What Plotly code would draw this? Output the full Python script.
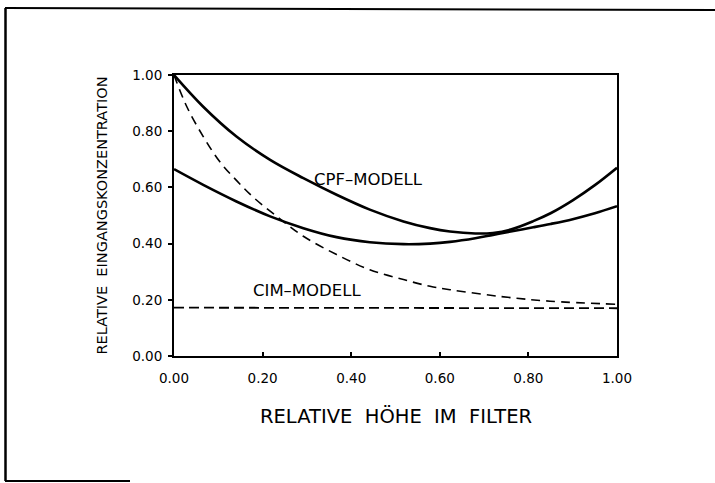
import plotly.graph_objects as go

# ---- data ----
cpf_x = [0.0, 0.066, 0.141, 0.217, 0.292, 0.367, 0.442, 0.518, 0.578, 0.623, 0.68, 0.72, 0.76, 0.811, 0.85, 0.90, 0.95, 1.0]
cpf_y = [1.0, 0.887, 0.781, 0.698, 0.633, 0.574, 0.521, 0.479, 0.455, 0.443, 0.436, 0.438, 0.450, 0.480, 0.508, 0.554, 0.608, 0.670]

low_x = [0.0, 0.066, 0.141, 0.217, 0.292, 0.367, 0.442, 0.518, 0.578, 0.623, 0.68, 0.72, 0.76, 0.811, 0.85, 0.90, 0.95, 1.0]
low_y = [0.665, 0.609, 0.550, 0.497, 0.455, 0.423, 0.405, 0.398, 0.400, 0.406, 0.419, 0.431, 0.443, 0.458, 0.470, 0.487, 0.508, 0.533]

dec_x = [0.0, 0.029, 0.066, 0.104, 0.141, 0.179, 0.232, 0.292, 0.367, 0.442, 0.518, 0.578, 0.623, 0.736, 0.849, 1.0]
dec_y = [1.0, 0.887, 0.781, 0.690, 0.625, 0.565, 0.497, 0.426, 0.361, 0.307, 0.272, 0.248, 0.236, 0.212, 0.195, 0.184]

cim_x = [0.0, 1.0]
cim_y = [0.172, 0.170]

tick_vals = [0.0, 0.2, 0.4, 0.6, 0.8, 1.0]
tick_text = ["0.00", "0.20", "0.40", "0.60", "0.80", "1.00"]

x_title = "RELATIVE\u00a0\u00a0HÖHE\u00a0\u00a0IM\u00a0\u00a0FILTER"
y_title = "RELATIVE\u00a0\u00a0EINGANGSKONZENTRATION"
cpf_label = "CPF–MODELL"
cim_label = "CIM–MODELL"

FONT = "DejaVu Sans"

fig = go.Figure()
fig.add_trace(go.Scatter(x=cpf_x, y=cpf_y, mode="lines", line=dict(color="black", width=2.6, shape="spline", smoothing=1.0), showlegend=False))
fig.add_trace(go.Scatter(x=low_x, y=low_y, mode="lines", line=dict(color="black", width=2.6, shape="spline", smoothing=1.0), showlegend=False))
fig.add_trace(go.Scatter(x=dec_x, y=dec_y, mode="lines", line=dict(color="black", width=1.6, shape="spline", smoothing=1.0, dash="9px,6px"), showlegend=False))
fig.add_trace(go.Scatter(x=cim_x, y=cim_y, mode="lines", line=dict(color="black", width=1.8, dash="10px,5px"), showlegend=False))

W, H = 715, 483
L, R, T, B = 174, 98, 75, 127
pw, ph = W - L - R, H - T - B

def px(xp):
    return (xp - L) / pw

def py(yp):
    return (H - B - yp) / ph

fig.update_layout(
    width=W, height=H,
    margin=dict(l=L, r=R, t=T, b=B, pad=0),
    paper_bgcolor="white", plot_bgcolor="white",
    font=dict(family=FONT, color="black"),
    xaxis=dict(range=[0, 1], showgrid=False, zeroline=False, showline=True, linecolor="black", linewidth=2,
               mirror=True, ticks="inside", ticklen=4, tickwidth=1.5, tickcolor="black",
               tickvals=tick_vals, ticktext=tick_text, tickfont=dict(size=13.5, family=FONT),
               ticklabelstandoff=9),
    yaxis=dict(range=[0, 1], showgrid=False, zeroline=False, showline=True, linecolor="black", linewidth=2,
               mirror=True, ticks="outside", ticklen=4, tickwidth=1.5, tickcolor="black",
               tickvals=tick_vals, ticktext=tick_text, tickfont=dict(size=13.5, family=FONT),
               ticklabelstandoff=3),
    annotations=[
        dict(text=x_title, xref="paper", yref="paper", x=0.5, y=py(416), xanchor="center", yanchor="middle",
             showarrow=False, font=dict(size=19.5, family=FONT)),
        dict(text=y_title, xref="paper", yref="paper", x=px(101), y=0.5, xanchor="center", yanchor="middle",
             textangle=-90, showarrow=False, font=dict(size=14.5, family=FONT)),
        dict(text=cpf_label, xref="x", yref="y", x=0.438, y=0.627, xanchor="center", yanchor="middle",
             showarrow=False, font=dict(size=16.5, family=FONT)),
        dict(text=cim_label, xref="x", yref="y", x=0.301, y=0.234, xanchor="center", yanchor="middle",
             showarrow=False, font=dict(size=16.5, family=FONT)),
    ],
    shapes=[
        dict(type="line", xref="paper", yref="paper", x0=px(5), y0=py(8), x1=px(715), y1=py(10),
             line=dict(color="black", width=2)),
        dict(type="line", xref="paper", yref="paper", x0=px(5.5), y0=py(8), x1=px(5.5), y1=py(481),
             line=dict(color="black", width=2.5)),
        dict(type="line", xref="paper", yref="paper", x0=px(5), y0=py(481), x1=px(130), y1=py(481),
             line=dict(color="black", width=2)),
    ],
)

fig.write_html("out.html")
